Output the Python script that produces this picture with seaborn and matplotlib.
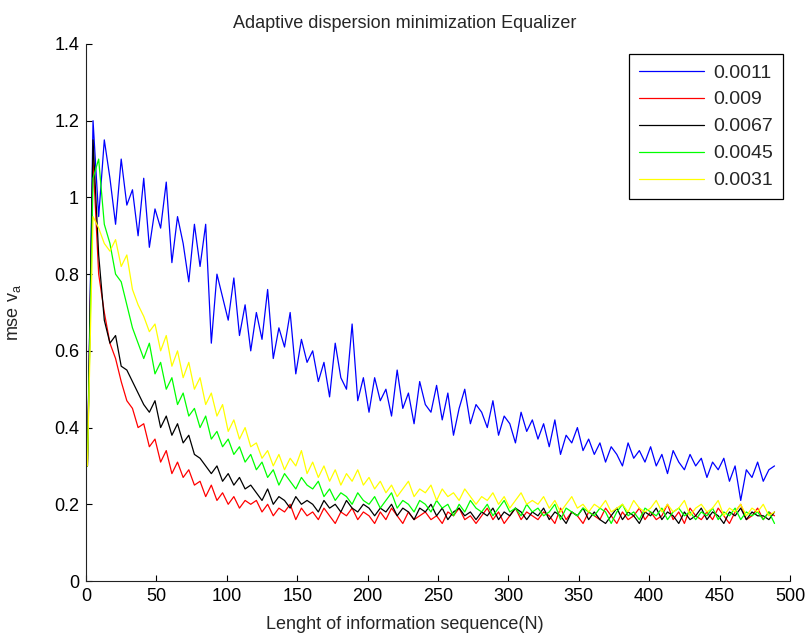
import pandas as pd
import matplotlib
matplotlib.use('Agg')
import matplotlib.pyplot as plt
import seaborn as sns
from matplotlib.ticker import FuncFormatter

# sample index (every 4th sample of the sequence)
samples = list(range(1, 490, 4))

mu_labels = ['0.0011', '0.009', '0.0067', '0.0045', '0.0031']
mu_colors = ['#0000ff', '#ff0000', '#000000', '#00ff00', '#ffff00']

mse_0011 = [0.30, 1.20, 0.95, 1.15, 1.05, 0.93, 1.10, 0.98, 1.02, 0.90,
            1.05, 0.87, 0.97, 0.92, 1.04, 0.83, 0.95, 0.88, 0.78, 0.93,
            0.82, 0.93, 0.62, 0.80, 0.74, 0.68, 0.79, 0.64, 0.72, 0.60,
            0.70, 0.63, 0.76, 0.58, 0.66, 0.61, 0.70, 0.54, 0.63, 0.57,
            0.60, 0.52, 0.57, 0.48, 0.62, 0.53, 0.50, 0.67, 0.47, 0.53,
            0.44, 0.53, 0.47, 0.50, 0.43, 0.55, 0.45, 0.49, 0.41, 0.52,
            0.46, 0.44, 0.51, 0.42, 0.49, 0.38, 0.45, 0.50, 0.41, 0.46,
            0.44, 0.40, 0.47, 0.38, 0.43, 0.41, 0.36, 0.44, 0.39, 0.42,
            0.37, 0.41, 0.35, 0.42, 0.33, 0.38, 0.36, 0.40, 0.34, 0.37,
            0.33, 0.36, 0.31, 0.35, 0.33, 0.30, 0.36, 0.32, 0.34, 0.31,
            0.35, 0.30, 0.33, 0.28, 0.34, 0.31, 0.29, 0.33, 0.30, 0.32,
            0.27, 0.31, 0.29, 0.32, 0.26, 0.30, 0.21, 0.29, 0.27, 0.31,
            0.26, 0.29, 0.30]

mse_009 = [0.30, 1.10, 0.80, 0.70, 0.62, 0.58, 0.52, 0.47, 0.45, 0.40,
           0.41, 0.35, 0.37, 0.31, 0.34, 0.28, 0.31, 0.27, 0.29, 0.25,
           0.26, 0.22, 0.25, 0.21, 0.23, 0.20, 0.22, 0.19, 0.21, 0.20,
           0.21, 0.18, 0.20, 0.17, 0.19, 0.18, 0.20, 0.16, 0.19, 0.17,
           0.18, 0.16, 0.19, 0.17, 0.15, 0.18, 0.17, 0.19, 0.16, 0.18,
           0.17, 0.15, 0.18, 0.16, 0.19, 0.17, 0.15, 0.18, 0.16, 0.17,
           0.18, 0.16, 0.17, 0.15, 0.18, 0.17, 0.19, 0.16, 0.17, 0.15,
           0.17, 0.19, 0.16, 0.18, 0.15, 0.17, 0.19, 0.16, 0.18, 0.17,
           0.16, 0.18, 0.17, 0.15, 0.19, 0.16, 0.18, 0.17, 0.15, 0.18,
           0.17, 0.16, 0.19, 0.17, 0.15, 0.18, 0.16, 0.17, 0.19, 0.16,
           0.18, 0.16, 0.17, 0.20, 0.16, 0.18, 0.15, 0.19, 0.17, 0.16,
           0.18, 0.16, 0.19, 0.17, 0.15, 0.18, 0.20, 0.16, 0.17, 0.19,
           0.16, 0.18, 0.17]

mse_0067 = [0.30, 1.15, 0.85, 0.68, 0.62, 0.64, 0.56, 0.55, 0.52, 0.49,
            0.46, 0.44, 0.47, 0.40, 0.43, 0.38, 0.41, 0.36, 0.38, 0.33,
            0.32, 0.30, 0.28, 0.30, 0.26, 0.28, 0.25, 0.27, 0.24, 0.25,
            0.23, 0.21, 0.24, 0.20, 0.22, 0.21, 0.19, 0.22, 0.20, 0.21,
            0.20, 0.18, 0.21, 0.19, 0.20, 0.18, 0.21, 0.19, 0.18, 0.20,
            0.19, 0.17, 0.19, 0.18, 0.20, 0.17, 0.19, 0.18, 0.16, 0.19,
            0.18, 0.20, 0.17, 0.19, 0.16, 0.18, 0.19, 0.17, 0.18, 0.16,
            0.18, 0.17, 0.19, 0.16, 0.18, 0.17, 0.19, 0.18, 0.16, 0.18,
            0.17, 0.19, 0.16, 0.18, 0.17, 0.15, 0.18, 0.17, 0.19, 0.16,
            0.18, 0.16, 0.15, 0.17, 0.19, 0.16, 0.18, 0.17, 0.15, 0.18,
            0.17, 0.19, 0.16, 0.18, 0.17, 0.15, 0.18, 0.16, 0.17, 0.19,
            0.16, 0.18, 0.17, 0.15, 0.18, 0.17, 0.19, 0.16, 0.18, 0.17,
            0.17, 0.16, 0.18]

mse_0045 = [0.30, 1.05, 1.10, 0.93, 0.88, 0.80, 0.78, 0.72, 0.66, 0.62,
            0.58, 0.62, 0.54, 0.57, 0.50, 0.53, 0.46, 0.49, 0.43, 0.45,
            0.40, 0.43, 0.37, 0.39, 0.35, 0.37, 0.33, 0.35, 0.31, 0.33,
            0.29, 0.31, 0.27, 0.29, 0.25, 0.28, 0.26, 0.24, 0.27, 0.25,
            0.24, 0.26, 0.22, 0.24, 0.21, 0.23, 0.22, 0.20, 0.23, 0.21,
            0.20, 0.22, 0.19, 0.21, 0.23, 0.19, 0.21, 0.20, 0.18, 0.21,
            0.20, 0.18, 0.21, 0.19, 0.20, 0.17, 0.20, 0.18, 0.21, 0.19,
            0.18, 0.20, 0.17, 0.19, 0.21, 0.18, 0.19, 0.17, 0.20, 0.18,
            0.19, 0.17, 0.18, 0.20, 0.16, 0.19, 0.18, 0.17, 0.19, 0.18,
            0.17, 0.19, 0.18, 0.15, 0.18, 0.20, 0.17, 0.18, 0.16, 0.19,
            0.18, 0.17, 0.19, 0.16, 0.18, 0.19, 0.17, 0.18, 0.16, 0.18,
            0.17, 0.19, 0.16, 0.18, 0.17, 0.19, 0.16, 0.18, 0.17, 0.18,
            0.16, 0.18, 0.15]

mse_0031 = [0.30, 0.95, 0.92, 0.88, 0.86, 0.89, 0.82, 0.85, 0.76, 0.72,
            0.69, 0.65, 0.67, 0.60, 0.64, 0.56, 0.60, 0.53, 0.57, 0.50,
            0.53, 0.46, 0.49, 0.43, 0.46, 0.39, 0.42, 0.37, 0.40, 0.35,
            0.36, 0.32, 0.34, 0.30, 0.33, 0.29, 0.32, 0.30, 0.34, 0.28,
            0.31, 0.27, 0.30, 0.26, 0.29, 0.25, 0.28, 0.26, 0.29, 0.25,
            0.27, 0.24, 0.26, 0.23, 0.25, 0.22, 0.24, 0.26, 0.22, 0.24,
            0.23, 0.25, 0.21, 0.24, 0.22, 0.23, 0.21, 0.24, 0.22, 0.20,
            0.22, 0.21, 0.23, 0.20, 0.22, 0.19, 0.21, 0.23, 0.20, 0.21,
            0.20, 0.22, 0.19, 0.21, 0.18, 0.20, 0.22, 0.19, 0.20, 0.18,
            0.20, 0.19, 0.21, 0.18, 0.19, 0.20, 0.18, 0.21, 0.19, 0.18,
            0.19, 0.21, 0.18, 0.20, 0.18, 0.19, 0.21, 0.17, 0.19, 0.20,
            0.18, 0.19, 0.21, 0.17, 0.19, 0.18, 0.20, 0.17, 0.19, 0.18,
            0.20, 0.17, 0.18]

series = [mse_0011, mse_009, mse_0067, mse_0045, mse_0031]

# long form table for seaborn
frames = []
for lab, vals in zip(mu_labels, series):
    frames.append(pd.DataFrame({'n': samples, 'mse': vals, 'mu': lab}))
df = pd.concat(frames, ignore_index=True)

sns.set_style('ticks')
plt.rcParams['font.family'] = ['Liberation Sans', 'DejaVu Sans']
plt.rcParams['mathtext.fontset'] = 'custom'
plt.rcParams['mathtext.rm'] = 'Liberation Sans'
plt.rcParams['mathtext.it'] = 'Liberation Sans'
fs = 13

fig = plt.figure(figsize=(8.11, 6.39), dpi=100)
ax = fig.add_axes([86 / 811, 58 / 639, 704 / 811, 537 / 639])

sns.lineplot(data=df, x='n', y='mse', hue='mu', hue_order=mu_labels,
             palette=mu_colors, estimator=None, sort=False,
             linewidth=0.9, ax=ax)

ax.set_xlim(0, 500)
ax.set_ylim(0, 1.4)
ax.set_xticks(range(0, 501, 50))
ax.set_yticks([0, 0.2, 0.4, 0.6, 0.8, 1.0, 1.2, 1.4])
ax.yaxis.set_major_formatter(FuncFormatter(lambda v, p: '%g' % v))
ax.tick_params(direction='in', length=4, width=0.8, labelsize=fs,
               colors='black', pad=5)
sns.despine(ax=ax)
for s in ['left', 'bottom']:
    ax.spines[s].set_color('#222222')
    ax.spines[s].set_linewidth(0.8)

ax.set_xlabel('Lenght of information sequence(N)', fontsize=fs)
ax.xaxis.set_label_coords(0.453, -0.066)
ax.set_ylabel(r'mse v$_a$', fontsize=fs)
ax.yaxis.set_label_coords(-0.09, 0.5)

fig.text(405 / 811, 1 - 24 / 639, 'Adaptive dispersion minimization Equalizer',
         ha='center', va='center', fontsize=fs)

handles, labels = ax.get_legend_handles_labels()
leg = ax.legend(handles, labels, loc='upper right',
                bbox_to_anchor=(0.9895, 0.981), borderaxespad=0,
                fontsize=14, frameon=True, fancybox=False, framealpha=1,
                edgecolor='black', handlelength=3.35, handletextpad=0.46,
                labelspacing=0.48, borderpad=0.5)
leg.get_frame().set_linewidth(0.9)
for line in leg.get_lines():
    line.set_linewidth(0.9)

plt.savefig('out.png', dpi=100)
